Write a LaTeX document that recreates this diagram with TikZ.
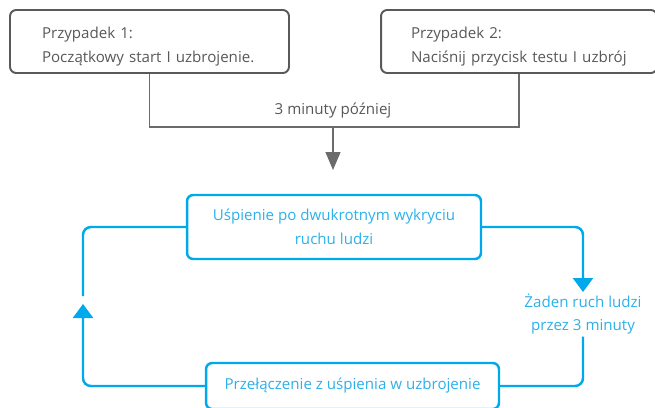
\documentclass[tikz,border=0pt]{standalone}
\usepackage{fontspec}
\setmainfont{Open Sans}
\usetikzlibrary{arrows.meta}

\definecolor{sky}{RGB}{0,168,236}
\definecolor{skytext}{RGB}{45,176,234}
\definecolor{ink}{RGB}{70,70,70}

\begin{document}
\begin{tikzpicture}[x=0.02cm, y=-0.02cm,
    font=\fontsize{8.6}{13.6}\selectfont,
    casebox/.style={draw=ink!90, line width=1.1pt, rounded corners=3.5pt,
      minimum height=1.26cm, align=left, text=ink!90, inner ysep=0pt,
      execute at begin node={\rule{0pt}{12pt}}},
    statebox/.style={draw=sky, line width=1.4pt, rounded corners=3.5pt,
      align=center, text=skytext},
    feed/.style={ink!80, line width=0.7pt},
    loop/.style={sky, line width=1.4pt, rounded corners=4.5pt},
    bluetip/.style={-{Triangle[width=0.4cm, length=0.28cm]}}]
  \useasboundingbox (0,0) rectangle (655,407);

  % the two ways in
  \node (case1) [casebox, minimum width=5.58cm, text width=4.3cm, inner xsep=0.64cm]
    at (149.5,41.5) {Przypadek 1:\\Początkowy start I uzbrojenie.};
  \node (case2) [casebox, minimum width=5.52cm, text width=4.32cm, inner xsep=0.6cm]
    at (519,41.5) {Przypadek 2:\\Naciśnij przycisk testu I uzbrój};

  \coordinate (join) at (333,127);
  \coordinate (down) at (333,170);
  \draw[feed] (case1.south) |- (join) -| (case2.south);
  \node (wait) [text=ink!90] at (333,111) {3 minuty później};
  \draw[feed, -{Triangle[width=0.3cm, length=0.36cm]}] (join) -- (down);

  % the loop
  \node (sleep) [statebox, minimum width=5.88cm, minimum height=1.28cm]
    at (334,227) {Uśpienie po dwukrotnym wykryciu\\ruchu ludzi};
  \node (switch) [statebox, minimum width=5.86cm, minimum height=0.92cm]
    at (352.5,386) {Przełączenie z uśpienia w uzbrojenie};
  \node (still) [text=skytext, align=center, inner sep=1pt]
    at (583,314) {Żaden ruch ludzi\\przez 3 minuty};

  \coordinate (tipR) at (583,292);
  \coordinate (tipL) at (83,304);
  \coordinate (gapL) at (83,296);

  \draw[loop, bluetip] (sleep.east) -| (tipR);
  \draw[loop] (still.south) |- (switch.east);
  \draw[loop, bluetip] (switch.west) -| (tipL);
  \draw[loop] (gapL) |- (sleep.west);
\end{tikzpicture}
\end{document}
